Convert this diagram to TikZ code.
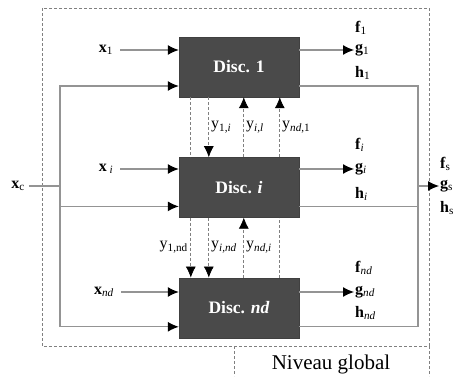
\documentclass[tikz,border=0pt]{standalone}
\usepackage{fontspec}
\setmainfont{Liberation Serif}
\usetikzlibrary{arrows.meta,positioning,calc}

\begin{document}
\begin{tikzpicture}[x=1pt,y=1pt,node distance=60pt,
    disc/.style={draw=black!75, fill=black!71, text=white, minimum width=120pt, minimum height=60pt, font=\fontsize{17.5}{20}\selectfont\bfseries},
    lab/.style={font=\fontsize{16}{18}\selectfont, inner sep=1pt},
    wire/.style={draw=black!42, line width=1.2pt},
    flow/.style={wire, -{Latex[length=11pt,width=10pt,color=black]}},
    link/.style={draw=black!50, line width=0.7pt, dash pattern=on 3pt off 2pt},
    linkarr/.style={link, -{Latex[length=11pt,width=10pt,color=black]}}]
    \useasboundingbox (0,0) rectangle (464,376);

    % disciplines
    \node (d1) [disc] at (239,309) {Disc. 1};
    \node (di) [disc, below=of d1] {Disc. \textit{i}};
    \node (dnd) [disc, below=of di] {Disc. \textit{nd}};

    % global level frame
    \draw [link] (42,368) rectangle (429,30);
    \draw [link] (234,30) -- (234,0);
    \draw [link] (429,30) -- (429,0);
    \node (niveau) [font=\fontsize{21}{24}\selectfont] at (331,12) {Niveau global};

    % local inputs
    \node (x1) [lab] at (106,326) {\textbf{x}\textsubscript{1}};
    \node (xi) [lab] at (106,207) {\textbf{x}\,\textsubscript{\textit{i}}};
    \node (xnd) [lab] at (104,84) {\textbf{x}\textsubscript{\textit{nd}}};
    \draw [flow] (x1.east) ++(6,0) -- (x1 -| d1.west);
    \draw [flow] (xi.east) ++(6,0) -- (xi -| di.west);
    \draw [flow] (xnd.east) ++(6,0) -- (xnd -| dnd.west);

    % shared input
    \node (xc) [lab] at (18,190) {\textbf{x}\textsubscript{c}};
    \coordinate (split) at (60,190);
    \draw [wire] (xc.east) ++(3,0) -- (split);
    \draw [flow] (split) |- ($(d1.west)+(0,-19)$);
    \draw [flow] (split) |- ($(di.west)+(0,-19)$);
    \draw [flow] (split) |- ($(dnd.west)+(0,-19)$);

    % couplings
    \draw [link] ($(d1.south west)+(12,0)$) -- ($(di.north west)+(12,0)$);
    \draw [linkarr] ($(di.south west)+(12,0)$) -- ($(dnd.north west)+(12,0)$);
    \draw [linkarr] ($(d1.south west)+(30,0)$) -- ($(di.north west)+(30,0)$);
    \draw [linkarr] ($(di.south west)+(30,0)$) -- ($(dnd.north west)+(30,0)$);
    \draw [linkarr] ($(di.north west)+(65,0)$) -- ($(d1.south west)+(65,0)$);
    \draw [linkarr] ($(dnd.north west)+(65,0)$) -- ($(di.south west)+(65,0)$);
    \draw [linkarr] ($(di.north west)+(101,0)$) -- ($(d1.south west)+(101,0)$);
    \draw [link] ($(dnd.north west)+(101,0)$) -- ($(di.south west)+(101,0)$);

    \node (y1i) [lab, anchor=west] at (210,249) {y\textsubscript{1,\textit{i}}};
    \node (yil) [lab, anchor=west] at (245,249) {y\textsubscript{\textit{i,l}}};
    \node (ynd1) [lab, anchor=west] at (281,249) {y\textsubscript{\textit{nd},1}};
    \node (y1nd) [lab, anchor=east] at (189,129) {y\textsubscript{1,nd}};
    \node (yind) [lab, anchor=west] at (210,129) {y\textsubscript{\textit{i,nd}}};
    \node (yndi) [lab, anchor=west] at (245,129) {y\textsubscript{\textit{nd,i}}};

    % local outputs
    \node (g1) [lab, anchor=west] at (354,326) {\textbf{g}\textsubscript{1}};
    \node (f1) [lab, anchor=west] at (354,348) {\textbf{f}\textsubscript{1}};
    \node (h1) [lab, anchor=west] at (354,303) {\textbf{h}\textsubscript{1}};
    \node (gi) [lab, anchor=west] at (354,207) {\textbf{g}\textsubscript{\textit{i}}};
    \node (fi) [lab, anchor=west] at (354,231) {\textbf{f}\textsubscript{\textit{i}}};
    \node (hi) [lab, anchor=west] at (354,182) {\textbf{h}\textsubscript{\textit{i}}};
    \node (gnd) [lab, anchor=west] at (354,84) {\textbf{g}\textsubscript{\textit{nd}}};
    \node (fnd) [lab, anchor=west] at (354,108) {\textbf{f}\textsubscript{\textit{nd}}};
    \node (hnd) [lab, anchor=west] at (354,63) {\textbf{h}\textsubscript{\textit{nd}}};
    \draw [flow] (g1 -| d1.east) -- (g1.west);
    \draw [flow] (gi -| di.east) -- (gi.west);
    \draw [flow] (gnd -| dnd.east) -- (gnd.west);

    % system outputs
    \coordinate (merge) at (418,190);
    \node (gs) [lab, anchor=west] at (439,190) {\textbf{g}\textsubscript{s}};
    \node (fs) [lab, anchor=west] at (439,212) {\textbf{f}\textsubscript{s}};
    \node (hs) [lab, anchor=west] at (439,168) {\textbf{h}\textsubscript{s}};
    \draw [wire] ($(d1.east)+(0,-19)$) -| (merge);
    \draw [wire] ($(di.east)+(0,-19)$) -| (merge);
    \draw [wire] ($(dnd.east)+(0,-19)$) -| (merge);
    \draw [flow] (merge) -- (gs.west);
\end{tikzpicture}
\end{document}
